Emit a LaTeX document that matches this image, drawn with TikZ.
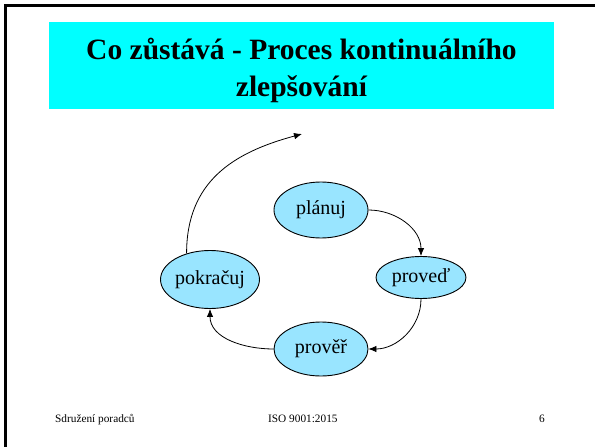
\documentclass[tikz,border=0pt]{standalone}
\usepackage{fontspec}
\setmainfont{Liberation Serif}
\usetikzlibrary{shapes.geometric,arrows.meta}
\definecolor{titlecyan}{RGB}{0,255,255}
\definecolor{ovalblue}{RGB}{153,229,255}
\tikzset{
  oval/.style={ellipse,draw=black,line width=0.9pt,fill=ovalblue,inner sep=0pt,font=\fontsize{20}{24}\selectfont},
  flow/.style={draw=black,line width=0.8pt,-{Latex[length=8pt,width=6.5pt]}},
  titletext/.style={anchor=base,inner sep=0pt,font=\fontsize{29.5}{35}\selectfont\bfseries},
  foot/.style={anchor=base west,inner sep=0pt,font=\fontsize{11.3}{13}\selectfont},
  frame/.style={draw=black,line width=3pt}
}
\begin{document}
\begin{tikzpicture}[x=1pt,y=-1pt]
\useasboundingbox (0,0) rectangle (595,447);
\fill[white] (0,0) rectangle (595,447);
% frame (top and left edges)
\draw[frame] (4.3,5.7) -- (595,5.7);
\draw[frame] (5.7,4.3) -- (5.7,447);
% title
\node[fill=titlecyan,minimum width=505pt,minimum height=87pt,inner sep=0pt] (titlebox) at (301.5,65.5) {};
\node[titletext] (title1) at (301.5,59) {Co zůstává - Proces kontinuálního};
\node[titletext] (title2) at (301.5,96) {zlepšování};
% cycle
\node[oval,minimum width=94pt,minimum height=56pt] (plan) at (321,210) {plánuj};
\node[oval,minimum width=90pt,minimum height=42pt] (do) at (421,277.5) {proveď};
\node[oval,minimum width=94pt,minimum height=54pt] (check) at (321,349) {prověř};
\node[oval,minimum width=88pt,minimum height=58pt] (act) at (210,279.5) {pokračuj};
\coordinate (top) at (302,134);
\draw[flow] (plan.east) to[out=0,in=90] (do.north);
\draw[flow] (do.south) to[out=-90,in=0] (check.east);
\draw[flow] (check.west) to[out=180,in=-90] (act.south);
\draw[flow] (act.132) to[out=90,in=195,looseness=1.1] (top);
% footer
\node[foot] (f1) at (55,422) {Sdružení poradců};
\node[foot] (f2) at (268,422) {ISO 9001:2015};
\node[foot] (f3) at (539,422) {6};
\end{tikzpicture}
\end{document}
